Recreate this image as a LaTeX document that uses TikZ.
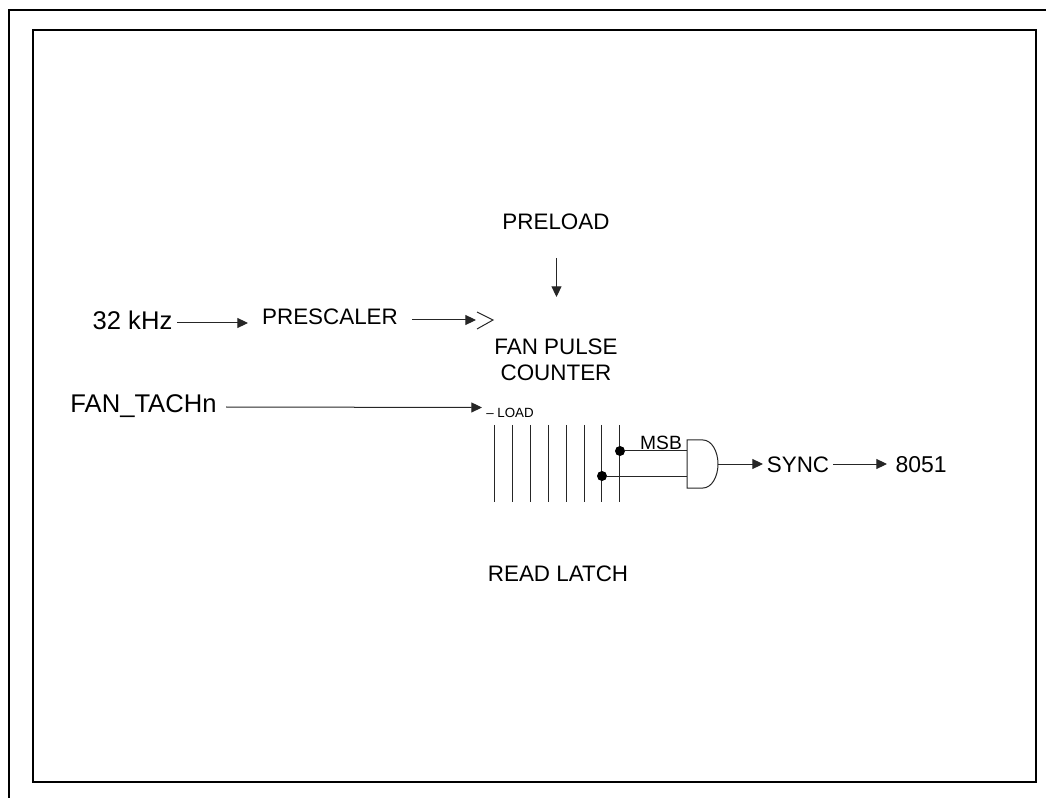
\documentclass[tikz,border=0pt]{standalone}
\usepackage{fontspec}
\setmainfont{Liberation Sans}
\usetikzlibrary{arrows.meta}
\tikzset{x=0.75pt,y=-0.75pt,
 frame/.style={line width=1.5pt,line cap=rect},
 wire/.style={line width=0.75pt,draw=black!85},
 arr/.style={wire,-{Triangle[length=8pt,width=7.5pt]}},
 big/.style={font=\fontsize{19.2}{22}\selectfont,inner sep=0pt,anchor=center},
 lab/.style={font=\fontsize{16.8}{19.5}\selectfont,inner sep=0pt,anchor=center,align=center},
 tiny/.style={font=\fontsize{10}{12}\selectfont,inner sep=0pt,anchor=west},
 dot/.style={circle,fill=black,inner sep=0pt,minimum size=7.5pt}}
\begin{document}
\begin{tikzpicture}
\useasboundingbox (0,0) rectangle (1046,798);
\draw[frame] (9,798) -- (9,10) -- (1046,10);
\draw[frame] (33,30) rectangle (1036,782);
\node[lab] (preload) at (556,222) {PRELOAD};
\coordinate (preloadEnd) at (556.5,297);
\coordinate (preloadStart) at (556.5,258);
\draw[arr] (preloadStart) -- (preloadEnd);
\node[big] (clk) at (132.5,320.5) {32 kHz};
\node[lab] (pres) at (330,317) {PRESCALER};
\coordinate (clkin) at (476,320);
\draw[arr] (177,323) -- (248,323);
\draw[arr] (412,320) -- (clkin);
\draw[wire] (477,312) -- (493,320) -- (477,329);
\node[lab] (fpc) at (556,360) {FAN PULSE\\COUNTER};
\node[big] (tach) at (143.5,406) {FAN\_TACHn};
\coordinate (loadin) at (482,407.5);
\draw[arr] (226,407) -- (loadin);
\node[tiny] (load) at (486,413) {– LOAD};
\foreach \x/\n in {494/a,512/b,530/c,548/d,566/e,584/f,601/g,619/h}
  \draw[wire] (\x,425) coordinate (t\n) -- (\x,502) coordinate (b\n);
\node[dot] (msbdot) at (620,451) {};
\node[dot] (lsbdot) at (602,476) {};
\node[lab,font=\fontsize{14.4}{17}\selectfont] (msb) at (661,443) {MSB};
\draw[wire] (687,440) -- (703,440) arc[start angle=-90,end angle=0,x radius=15,y radius=24] coordinate (gateout)
  arc[start angle=0,end angle=90,x radius=15,y radius=24] -- (687,488) -- cycle;
\draw[wire] (msbdot) -- (687,451);
\draw[wire] (lsbdot) -- (687,476);
\node[lab] (sync) at (798,465) {SYNC};
\node[big,font=\fontsize{17.2}{20}\selectfont] (out) at (921,465) {8051};
\draw[arr] (gateout) -- (763,464);
\draw[arr] (833,464) -- (887,464);
\node[lab] (rl) at (558,574) {READ LATCH};
\end{tikzpicture}
\end{document}
